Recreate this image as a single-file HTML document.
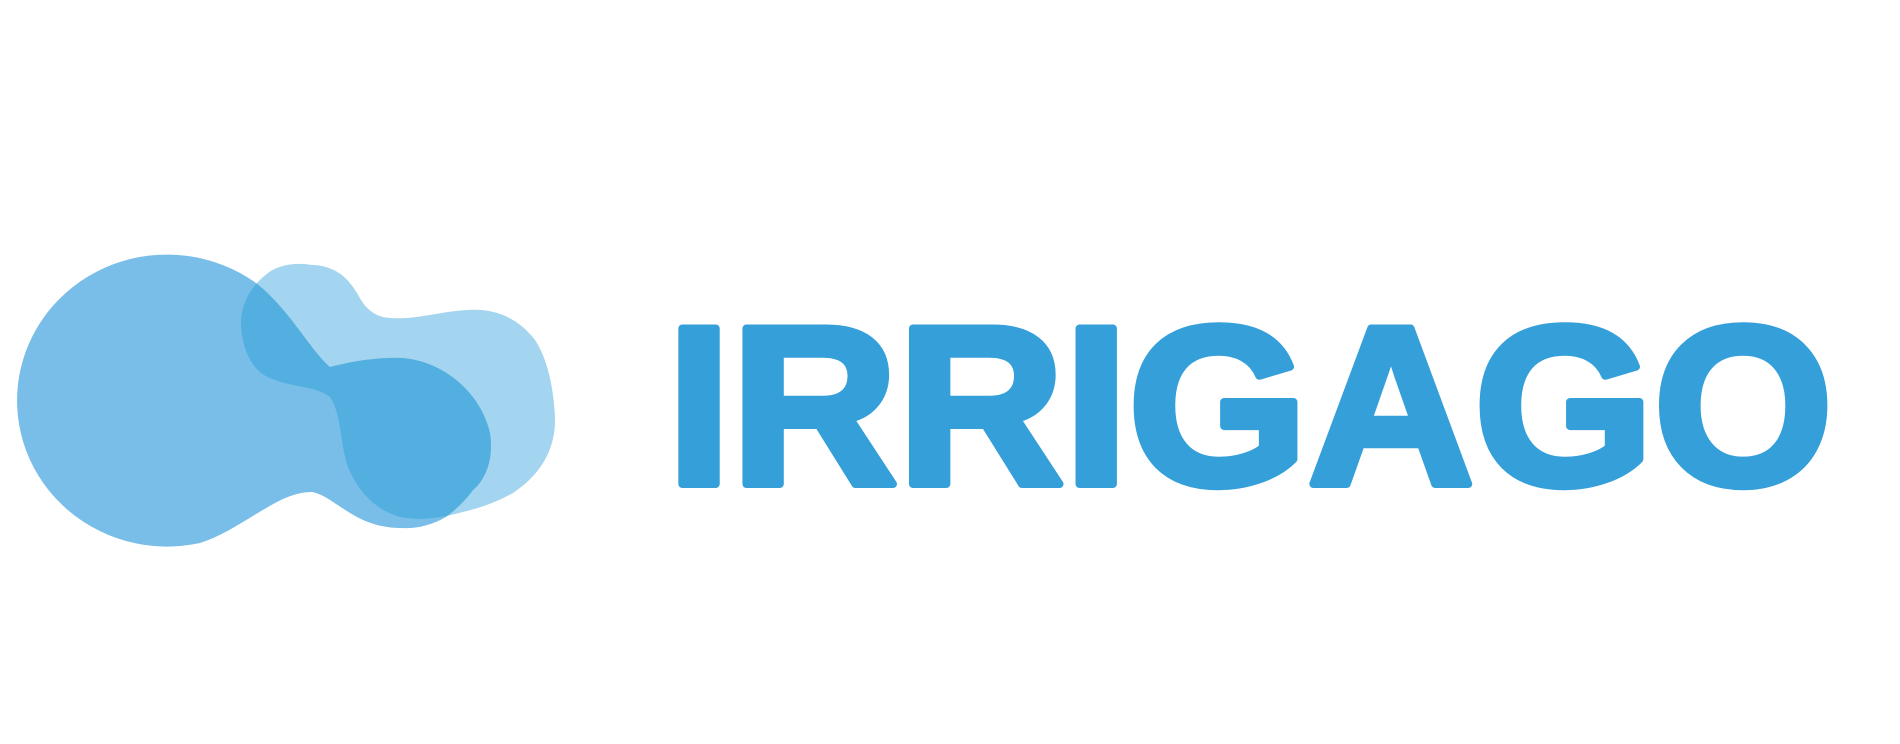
<!DOCTYPE html>
<html>
<head>
<meta charset="utf-8">
<style>
  html,body{margin:0;padding:0;background:#ffffff;}
  svg{display:block;}
</style>
</head>
<body>
<svg width="1900" height="744" viewBox="0 0 1900 744" xmlns="http://www.w3.org/2000/svg">
  <defs>
    <clipPath id="midClip">
      <path d="M200 543 A150 146 0 1 1 256 283 C290 310 310 350 330 367 C350 362 375 357 401 358 C440 360 480 390 490 433 C494 460 485 480 473 490 C462 505 452 512 446 517 C430 526 415 529 401 528 C385 528 370 524 357 517 C340 508 325 494 312 492 C295 492 280 500 268 507 C245 520 225 535 200 543 Z"/>
    </clipPath>
  </defs>
  <rect width="1900" height="744" fill="#ffffff"/>
  <g>
    <path fill="#a3d4f0"
      d="M312 265 C295 262 278 265 268 273 C248 288 240 308 241 327 C243 350 252 370 268 377 C290 388 315 385 330 397 C342 415 340 445 348 467 C358 492 378 512 401 517 C420 521 440 518 459 513 C485 507 500 500 513 493 C540 475 556 450 555 417 C553 380 545 355 535 340 C518 318 495 308 468 310 C440 311 410 322 383 317 C368 313 362 302 357 293 C350 282 345 277 339 273 C330 267 320 265 312 265 Z"/>
    <path fill="#78bee8"
      d="M200 543 A150 146 0 1 1 256 283 C290 310 310 350 330 367 C350 362 375 357 401 358 C440 360 480 390 490 433 C494 460 485 480 473 490 C462 505 452 512 446 517 C430 526 415 529 401 528 C385 528 370 524 357 517 C340 508 325 494 312 492 C295 492 280 500 268 507 C245 520 225 535 200 543 Z"/>
    <path fill="#52afdf" clip-path="url(#midClip)"
      d="M312 265 C295 262 278 265 268 273 C248 288 240 308 241 327 C243 350 252 370 268 377 C290 388 315 385 330 397 C342 415 340 445 348 467 C358 492 378 512 401 517 C420 521 440 518 459 513 C485 507 500 500 513 493 C540 475 556 450 555 417 C553 380 545 355 535 340 C518 318 495 308 468 310 C440 311 410 322 383 317 C368 313 362 302 357 293 C350 282 345 277 339 273 C330 267 320 265 312 265 Z"/>
  </g>
  <text x="667" y="484" textLength="1166" lengthAdjust="spacingAndGlyphs"
        font-family="'Liberation Sans', 'DejaVu Sans', sans-serif" font-weight="bold" font-size="226"
        fill="#359fd9" stroke="#359fd9" stroke-width="8" stroke-linejoin="round">IRRIGAGO</text>
</svg>
</body>
</html>
